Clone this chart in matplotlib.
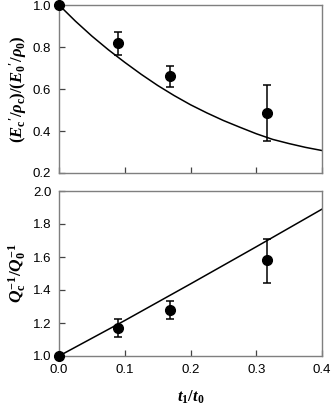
import matplotlib
matplotlib.use("Agg")
import matplotlib.pyplot as plt

plt.rcParams['font.family'] = ['Liberation Sans', 'DejaVu Sans']
plt.rcParams['mathtext.fontset'] = 'custom'
plt.rcParams['mathtext.rm'] = 'Liberation Serif:bold'
plt.rcParams['mathtext.it'] = 'Liberation Serif:italic:bold'
plt.rcParams['mathtext.bf'] = 'Liberation Serif:bold'

# measured data
t_ratio = [0.0, 0.089, 0.169, 0.316]
E_ratio = [1.0, 0.818, 0.662, 0.487]
E_err_lo = [0.0, 0.056, 0.051, 0.133]
E_err_hi = [0.0, 0.052, 0.049, 0.132]
Q_ratio = [1.0, 1.172, 1.279, 1.582]
Q_err_lo = [0.0, 0.055, 0.055, 0.138]
Q_err_hi = [0.0, 0.052, 0.054, 0.127]

# model curves
curve_t = [0.0, 0.025, 0.05, 0.075, 0.1, 0.125, 0.15, 0.175, 0.2,
           0.225, 0.25, 0.275, 0.3, 0.325, 0.35, 0.375, 0.4]
curve_E = [1.000, 0.923, 0.852, 0.787, 0.727, 0.670, 0.617, 0.569, 0.525,
           0.486, 0.450, 0.418, 0.387, 0.360, 0.340, 0.322, 0.307]
line_t = [0.0, 0.1, 0.2, 0.3, 0.4]
line_Q = [1.0, 1.215, 1.437, 1.662, 1.89]

xticks = [0.0, 0.1, 0.2, 0.3, 0.4]
E_ticks = [0.2, 0.4, 0.6, 0.8, 1.0]
Q_ticks = [1.0, 1.2, 1.4, 1.6, 1.8, 2.0]

W, H = 331, 404
fig = plt.figure(figsize=(W / 100, H / 100), dpi=100)
left = 59 / W
width = 263 / W
ax1 = fig.add_axes([left, 1 - 173 / H, width, 168 / H])
ax2 = fig.add_axes([left, 1 - 356 / H, width, 165 / H])

def style(ax):
    for s in ax.spines.values():
        s.set_color('#7f7f7f')
        s.set_linewidth(1.0)
    ax.tick_params(direction='in', length=4, width=0.9, color='#444444',
                   labelsize=9.5, pad=5.5, top=False, right=False)

ax1.plot(curve_t, curve_E, color='black', lw=1.1, clip_on=False)
ax1.errorbar(t_ratio, E_ratio, yerr=[E_err_lo, E_err_hi], fmt='o', color='black',
             ms=7, capsize=3.2, elinewidth=1.1, capthick=1.1, clip_on=False, zorder=5)
ax1.set_xlim(0, 0.4)
ax1.set_ylim(0.2, 1.0)
ax1.set_xticks(xticks)
ax1.set_xticklabels([])
ax1.set_yticks(E_ticks)
ax1.set_yticklabels([f"{v:.1f}" for v in E_ticks])
ax1.set_ylabel(r"$(E_{\mathrm{c}}\mathrm{'}/\rho_{\mathrm{c}})/(E_{\mathrm{0}}\mathrm{'}/\rho_{\mathrm{0}})$",
               fontsize=12, labelpad=3)
style(ax1)

ax2.plot(line_t, line_Q, color='black', lw=1.1, clip_on=False)
ax2.errorbar(t_ratio, Q_ratio, yerr=[Q_err_lo, Q_err_hi], fmt='o', color='black',
             ms=7, capsize=3.2, elinewidth=1.1, capthick=1.1, clip_on=False, zorder=5)
ax2.set_xlim(0, 0.4)
ax2.set_ylim(1.0, 2.0)
ax2.set_xticks(xticks)
ax2.set_xticklabels([f"{v:.1f}" for v in xticks])
ax2.set_yticks(Q_ticks)
ax2.set_yticklabels([f"{v:.1f}" for v in Q_ticks])
ax2.set_ylabel(r"$Q_{\mathrm{c}}^{\mathrm{-1}}/Q_{\mathrm{0}}^{\mathrm{-1}}$", fontsize=12.5, labelpad=3)
ax2.set_xlabel(r"$t_{\mathrm{1}}/t_{\mathrm{0}}$", fontsize=12, labelpad=9)
style(ax2)

fig.savefig("out.png", dpi=100)
